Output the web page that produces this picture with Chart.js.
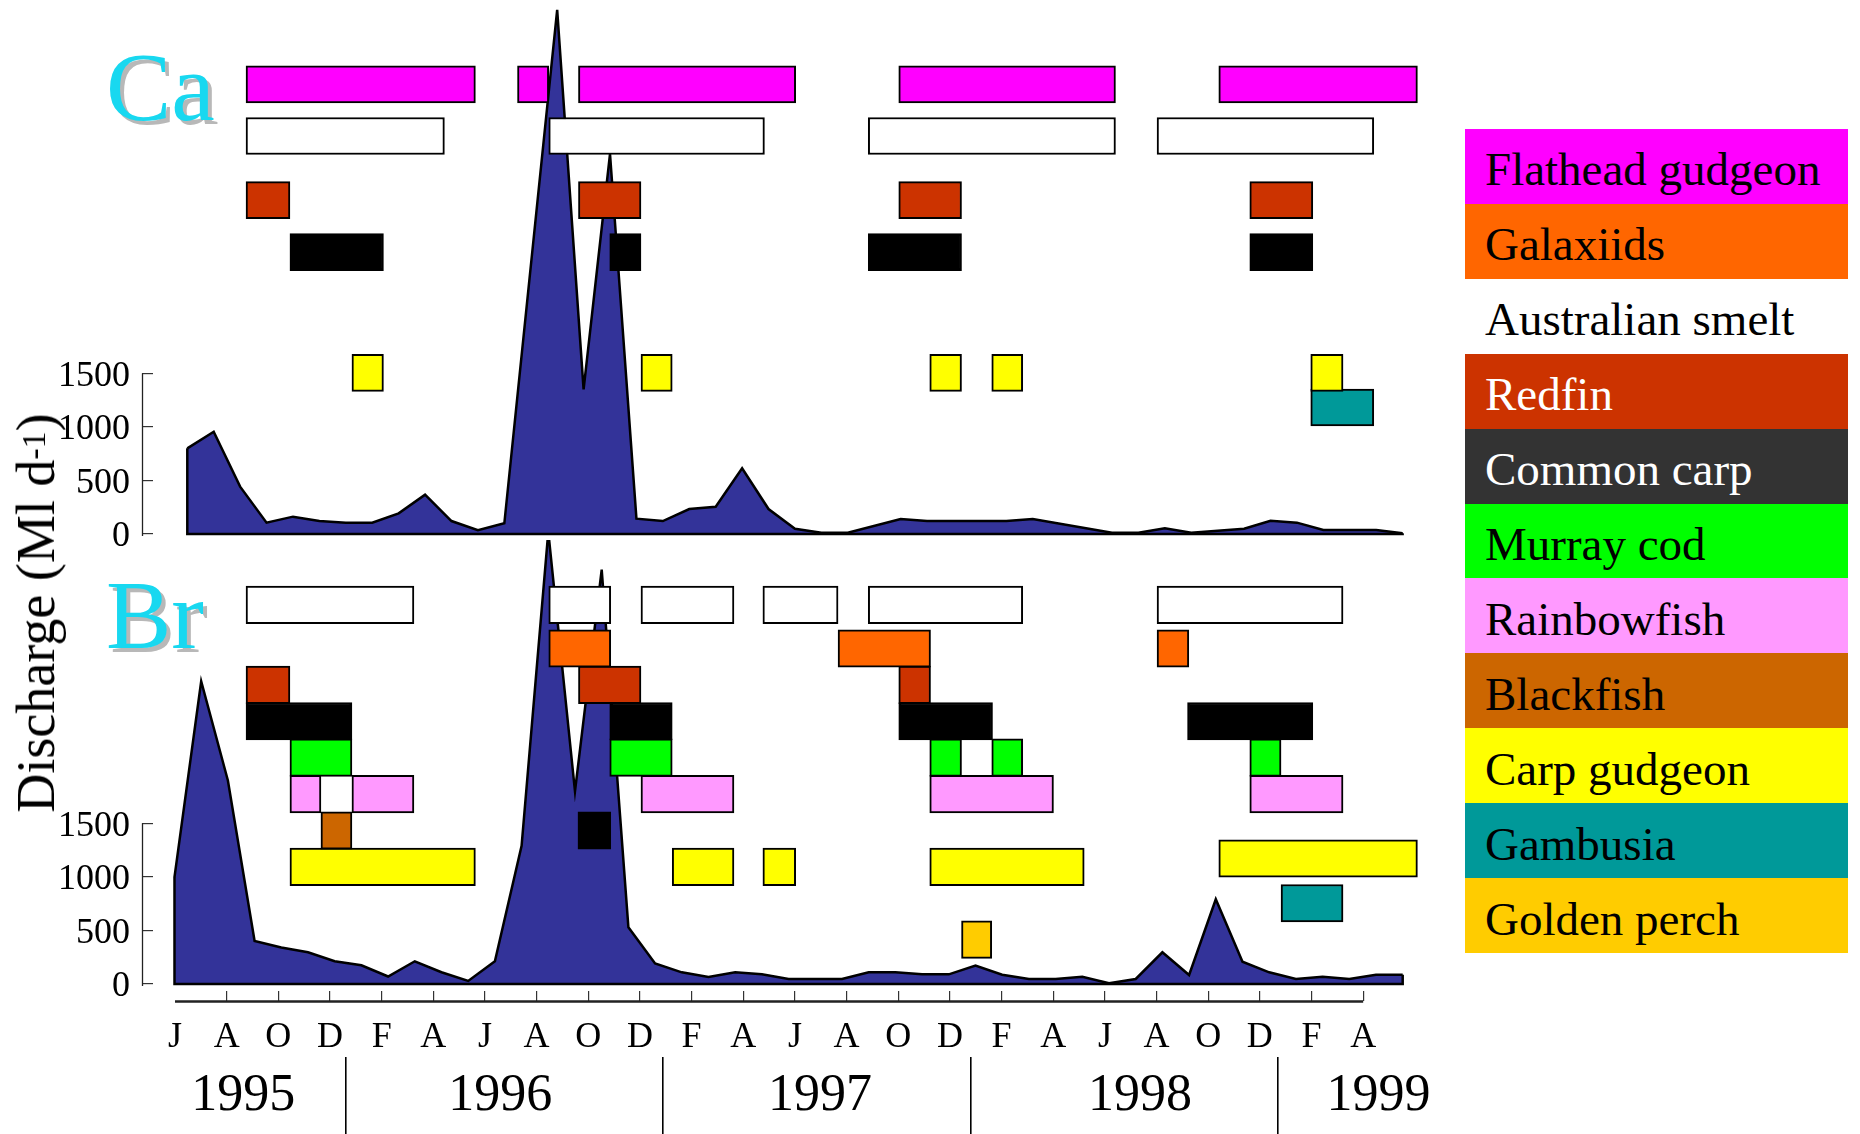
<!DOCTYPE html>
<html lang="en">
<head>
<meta charset="utf-8">
<title>Discharge and fish catches at Ca and Br, 1995–1999</title>
<script src="https://cdn.jsdelivr.net/npm/chart.js@4.4.1/dist/chart.umd.min.js"></script>
<style>
  html, body { margin: 0; padding: 0; background: #fff; }
  #wrap { position: relative; width: 1860px; height: 1134px; overflow: hidden;
          font-family: 'Liberation Serif', 'Times New Roman', serif; color: #000; }
  #chart { position: absolute; left: 0; top: 0; }
  .site { position: absolute; left: 106px; font-size: 98px; line-height: 1; color: #18d8f0;
          text-shadow: 4px 4px 0 #b8b8b8; }
  #ytitle { position: absolute; left: 36px; top: 613px; font-size: 54px; line-height: 1;
            white-space: nowrap; transform: translate(-50%, -50%) rotate(-90deg); }
  #ytitle sup { font-size: 34px; line-height: 0; vertical-align: 9px; }
  #legend { position: absolute; left: 1465px; top: 129px; width: 383px; height: 824px;
            display: flex; flex-direction: column; }
  #legend div { flex: 1 1 0; display: flex; align-items: center; box-sizing: border-box;
                padding: 6px 0 0 20px; font-size: 47px; white-space: nowrap; }
</style>
</head>
<body>
<div id="wrap">
  <canvas id="chart" width="1860" height="1134"></canvas>
  <div class="site" style="top:38px">Ca</div>
  <div class="site" style="top:566px">Br</div>
  <div id="ytitle">Discharge (Ml d<sup>-1</sup>)</div>
  <div id="legend"></div>
</div>
<script>
// Monthly discharge (Ml d-1), June 1995 to April 1999 (index 0 = June 1995)
const caFlow = [800, 955, 442, 106, 162, 121, 106, 106, 193, 367, 121, 35, 100, null,
  4893, 1351, 3548, 143, 121, 233, 255, 613, 233, 49, 12, 12, null, 140, 121, 121, 121,
  121, 140, null, null, 12, 12, 53, 12, null, 49, 124, 106, 37, 37, 37, 7];
const brFlow = [997, 2824, 1899, 402, 340, 296, 212, 175, 70, 212, 110, 29, 212, 1289,
  4219, 1798, 3865, 530, 191, 109, 65, 109, 90, 47, 47, 47, 109, 109, 90, 90, 171, 87,
  47, 47, 68, 7, 47, 296, 84, 790, 208, 109, 47, 68, 47, 87, 87];

const flowTicks = [0, 500, 1000, 1500];

// Month axis: 5 = June 1995, one unit per month
const monthTicks = [5, 7, 9, 11, 13, 15, 17, 19, 21, 23, 25, 27, 29, 31, 33, 35, 37, 39,
  41, 43, 45, 47, 49, 51];
const monthLabels = ['J', 'A', 'O', 'D', 'F', 'A', 'J', 'A', 'O', 'D', 'F', 'A',
  'J', 'A', 'O', 'D', 'F', 'A', 'J', 'A', 'O', 'D', 'F', 'A'];
const yearLabels = ['1995', '1996', '1997', '1998', '1999'];
const yearCentres = [7.64, 17.59, 29.97, 42.36, 51.59];
const yearBreaks = [11.62, 23.87, 35.79, 47.71];

const species = ['Flathead gudgeon', 'Galaxiids', 'Australian smelt', 'Redfin', 'Common carp',
  'Murray cod', 'Rainbowfish', 'Blackfish', 'Carp gudgeon', 'Gambusia', 'Golden perch'];

// Periods each species was caught, [from, to] on the month axis
const caFlathead = [[7.75, 16.63], [18.26, 19.47], [20.62, 29.03], [33.02, 41.41], [45.41, 53.10]];
const caSmelt = [[7.75, 15.43], [19.47, 27.82], [31.84, 41.41], [43.02, 51.41]];
const caRedfin = [[7.75, 9.45], [20.62, 23.04], [33.02, 35.45], [46.61, 49.05]];
const caCarp = [[9.45, 13.07], [21.83, 23.04], [31.84, 35.45], [46.61, 49.05]];
const caCarpGudgeon = [[11.85, 13.07], [23.04, 24.25], [34.22, 35.45], [36.62, 37.82], [48.97, 50.22]];
const caGambusia = [[48.97, 51.41]];

const brSmelt = [[7.75, 14.25], [19.47, 21.87], [23.04, 26.64], [27.76, 30.67], [31.84, 37.82], [43.02, 50.22]];
const brGalaxiids = [[19.47, 21.87], [30.67, 34.25], [43.02, 44.25]];
const brRedfin = [[7.75, 9.45], [20.62, 23.04], [33.02, 34.25]];
const brCarp = [[7.75, 11.85], [21.83, 24.25], [33.02, 36.65], [44.2, 49.05], [20.6, 21.87]];
const brCod = [[9.45, 11.85], [21.83, 24.25], [34.22, 35.45], [36.62, 37.82], [46.61, 47.82]];
const brRainbow = [[9.45, 10.65], [11.85, 14.25], [23.04, 26.64], [34.22, 39.01], [46.61, 50.22]];
const brBlackfish = [[10.65, 11.85]];
const brCarpGudgeon = [[9.45, 16.63], [24.25, 26.64], [27.76, 29.03], [34.22, 40.2], [45.41, 53.10]];
const brGambusia = [[47.82, 50.22]];
const brGoldenPerch = [[35.45, 36.62]];

const caught = {
  Ca: { 'Flathead gudgeon': caFlathead, 'Australian smelt': caSmelt, 'Redfin': caRedfin,
        'Common carp': caCarp, 'Carp gudgeon': caCarpGudgeon, 'Gambusia': caGambusia },
  Br: { 'Australian smelt': brSmelt, 'Galaxiids': brGalaxiids, 'Redfin': brRedfin,
        'Common carp': brCarp, 'Murray cod': brCod, 'Rainbowfish': brRainbow,
        'Blackfish': brBlackfish, 'Carp gudgeon': brCarpGudgeon, 'Gambusia': brGambusia,
        'Golden perch': brGoldenPerch }
};

// Row slots of the catch bars on the 'lane' scale
const rows = {
  Ca: { 'Flathead gudgeon': 0, 'Australian smelt': 1.42, 'Redfin': 3.18, 'Common carp': 4.61,
        'Carp gudgeon': 7.93, 'Gambusia': 8.88 },
  Br: { 'Australian smelt': 14.3, 'Galaxiids': 15.5, 'Redfin': 16.5, 'Common carp': 17.5,
        'Murray cod': 18.5, 'Rainbowfish': 19.5, 'Blackfish': 20.5, 'Carp gudgeon': 21.5,
        'Gambusia': 22.5, 'Golden perch': 23.5 }
};
const rowOverrides = { 'Br|Common carp|4': 20.5, 'Br|Carp gudgeon|4': 21.27 };
const rowHeight = { Ca: 37, Br: 37.5 };

const fill = {
  'Flathead gudgeon': '#ff00ff', 'Galaxiids': '#ff6600', 'Australian smelt': '#ffffff',
  'Redfin': '#cc3300', 'Common carp': '#000000', 'Murray cod': '#00ff00',
  'Rainbowfish': '#ff99ff', 'Blackfish': '#cc6600', 'Carp gudgeon': '#ffff00',
  'Gambusia': '#009999', 'Golden perch': '#ffcc00'
};
const legendFill = Object.assign({}, fill, { 'Common carp': '#333333' });
const legendInk = { 'Redfin': '#ffffff', 'Common carp': '#ffffff' };

const serif = "'Liberation Serif', 'Times New Roman', serif";
const clear = 'rgba(0,0,0,0)';

const datasets = [
  { type: 'line', label: 'Ca discharge', data: caFlow.map((y, x) => ({ x, y })),
    xAxisID: 'xCa', yAxisID: 'yCa', indexAxis: 'x', fill: 'origin',
    backgroundColor: '#333399', borderColor: '#000', borderWidth: 2.5,
    pointRadius: 0, pointHoverRadius: 0, tension: 0, spanGaps: true, order: 3, outlineBase: true },
  { type: 'line', label: 'Br discharge', data: brFlow.map((y, x) => ({ x, y })),
    xAxisID: 'xBr', yAxisID: 'yBr', indexAxis: 'x', fill: 'origin',
    backgroundColor: '#333399', borderColor: '#000', borderWidth: 2.5,
    pointRadius: 0, pointHoverRadius: 0, tension: 0, spanGaps: true, order: 2, outlineBase: true }
];
for (const site of ['Ca', 'Br']) {
  for (const sp of Object.keys(caught[site])) {
    datasets.push({
      type: 'bar', label: site + ' ' + sp, indexAxis: 'y', xAxisID: 'x', yAxisID: 'lane',
      data: caught[site][sp].map((p, k) => {
        const key = site + '|' + sp + '|' + k;
        return { x: p, y: (key in rowOverrides) ? rowOverrides[key] : rows[site][sp] };
      }),
      backgroundColor: fill[sp], borderColor: '#000', borderWidth: 2, borderSkipped: false,
      barThickness: rowHeight[site], grouped: false, order: 1
    });
  }
}

const yearTicks = yearCentres.map((v, i) => ({ value: v, label: yearLabels[i] }))
  .concat(yearBreaks.map(v => ({ value: v, label: '' })))
  .sort((a, b) => a.value - b.value);

const monthGrid = c => (c.tick && c.tick.value === monthTicks[0]) ? clear : '#333';
const yearGrid = c => (c.tick && yearBreaks.includes(c.tick.value)) ? '#000' : clear;

// axes keep no extra room for half-labels at the ends
const noEndPadding = s => { s.paddingTop = 0; s.paddingBottom = 0; s.paddingLeft = 0; s.paddingRight = 0; };

function flowAxis(stackWeight, weight, min, max) {
  return {
    type: 'linear', axis: 'y', position: 'left', stack: 'flow', stackWeight, weight, min, max,
    afterBuildTicks: s => { s.ticks = flowTicks.map(value => ({ value })); },
    afterFit: s => { s.width = 153; noEndPadding(s); },
    ticks: { padding: 12, labelOffset: 3, color: '#000',
             font: { family: serif, size: 36, lineHeight: 1 },
             callback: v => String(v) },
    grid: { display: true, drawOnChartArea: false, drawTicks: true, tickLength: 11,
            color: '#333', tickColor: '#333', lineWidth: 1.2 },
    border: { display: false }
  };
}

// axis lines that stop at the end ticks, and the closed outline of each discharge area
const frame = {
  id: 'frame',
  afterDatasetDraw(chart, args) {
    const ds = chart.data.datasets[args.index];
    if (!ds.outlineBase) return;
    const pts = args.meta.data;
    const first = pts[0], last = pts[pts.length - 1];
    const base = chart.scales[ds.yAxisID].getPixelForValue(0);
    const c = chart.ctx;
    c.save();
    c.strokeStyle = '#000';
    c.lineWidth = 2.5;
    c.beginPath();
    c.moveTo(first.x, first.y);
    c.lineTo(first.x, base);
    c.lineTo(last.x, base);
    c.lineTo(last.x, last.y);
    c.stroke();
    c.restore();
  },
  afterDraw(chart) {
    const c = chart.ctx;
    c.save();
    c.strokeStyle = '#222';
    c.lineWidth = 1.3;
    for (const id of ['yCa', 'yBr']) {
      const s = chart.scales[id];
      const px = chart.chartArea.left - s.options.grid.tickLength + 0.5;
      c.beginPath();
      c.moveTo(px, s.getPixelForValue(flowTicks[flowTicks.length - 1]));
      c.lineTo(px, s.getPixelForValue(0) + 2);
      c.stroke();
    }
    const x = chart.scales.x;
    const y = x.top + x.options.grid.tickLength + 0.5;
    c.lineWidth = 2.5;
    c.beginPath();
    c.moveTo(x.getPixelForValue(monthTicks[0]), y);
    c.lineTo(x.getPixelForValue(monthTicks[monthTicks.length - 1]), y);
    c.stroke();
    c.restore();
  }
};

new Chart(document.getElementById('chart'), {
  type: 'line',
  data: { datasets },
  plugins: [frame],
  options: {
    responsive: false,
    devicePixelRatio: 1,
    animation: false,
    events: [],
    layout: { padding: { left: 0, right: 420, top: 0, bottom: 0 } },
    plugins: { legend: { display: false }, tooltip: { enabled: false } },
    scales: {
      x: {
        type: 'linear', axis: 'x', position: 'bottom', weight: 0, min: 4.1483, max: 53.974,
        offset: false,
        afterBuildTicks: s => { s.ticks = monthTicks.map(value => ({ value })); },
        afterFit: s => { s.height = 66; noEndPadding(s); },
        ticks: { autoSkip: false, maxRotation: 0, minRotation: 0, padding: 19, color: '#000',
                 font: { family: serif, size: 36, lineHeight: 1 },
                 callback: (v, i) => monthLabels[i] },
        grid: { display: true, drawOnChartArea: false, drawTicks: true, tickLength: 10,
                offset: false, color: monthGrid, tickColor: monthGrid, lineWidth: 1.2 },
        border: { display: false }
      },
      years: {
        type: 'linear', axis: 'x', position: 'bottom', weight: 5, min: 4.1483, max: 53.974,
        offset: false,
        afterBuildTicks: s => { s.ticks = yearTicks.map(t => ({ value: t.value })); },
        afterFit: s => { s.height = 77; noEndPadding(s); },
        ticks: { autoSkip: false, maxRotation: 0, minRotation: 0, padding: -64, color: '#000',
                 font: { family: serif, size: 52, lineHeight: 1 },
                 callback: (v, i) => yearTicks[i].label },
        grid: { display: true, drawOnChartArea: false, drawTicks: true, tickLength: 77,
                offset: false, color: yearGrid, tickColor: yearGrid, lineWidth: 1.6 },
        border: { display: false }
      },
      xCa: { type: 'linear', axis: 'x', position: 'bottom', display: false, min: -1.298, max: 47.415 },
      xBr: { type: 'linear', axis: 'x', position: 'bottom', display: false, min: -0.805, max: 47.397 },
      yCa: flowAxis(540, 1, -56, 4986),
      yBr: flowAxis(451, 0, -65.3, 4141.8),
      lane: { type: 'linear', axis: 'y', position: 'left', display: false, reverse: true,
              min: -2.316, max: 24.91, offset: false }
    }
  }
});

const legend = document.getElementById('legend');
for (const sp of species) {
  const row = document.createElement('div');
  row.textContent = sp;
  row.style.background = legendFill[sp];
  row.style.color = legendInk[sp] || '#000';
  legend.appendChild(row);
}
</script>
</body>
</html>
